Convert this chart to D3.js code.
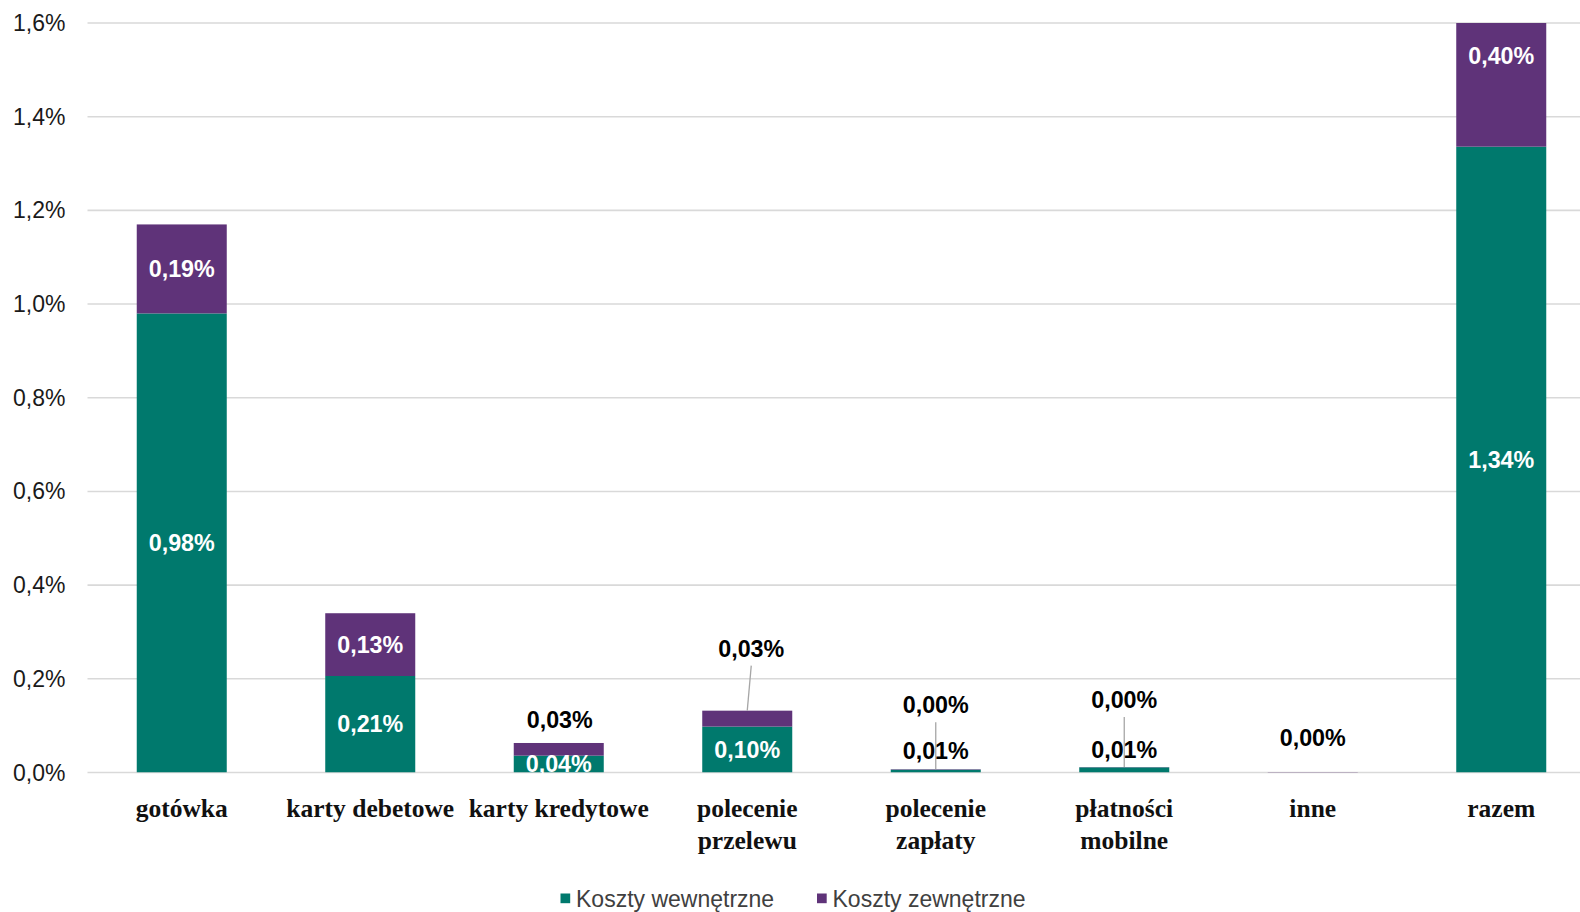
<!DOCTYPE html>
<html><head><meta charset="utf-8">
<script src="https://cdn.jsdelivr.net/npm/d3@7"></script>
<style>html,body{margin:0;padding:0;background:#fff;}svg{display:block;}</style>
</head><body>
<svg id="c" width="1580" height="912"></svg>
<script>
const categories = ["gotówka","karty debetowe","karty kredytowe","polecenie przelewu","polecenie zapłaty","płatności mobilne","inne","razem"];
const internalCosts = [0.98, 0.206, 0.036, 0.098, 0.006, 0.011, 0.0, 1.336];
const externalCosts = [0.19, 0.134, 0.027, 0.034, 0.001, 0.0005, 0.001, 0.40];
const seriesNames = ["Koszty wewnętrzne","Koszty zewnętrzne"];
const yTicks = [0, 0.2, 0.4, 0.6, 0.8, 1.0, 1.2, 1.4, 1.6];

(function () {
const colors = ["#00796d", "#5f3379"];
const svg = d3.select("#c");
const left = 87.5, plotTop = 23, bottom = 772.5, rightEdge = 1580;
const x = d3.scaleBand().domain(categories).range([left, left + 8*188.5]).paddingInner(0.5225).paddingOuter(0.26125);
const y = d3.scaleLinear().domain([0, 1.6]).range([bottom, plotTop]);
const fmt = v => d3.format(".2f")(v).replace(".", ",") + "%";
const fmtAxis = v => d3.format(".1f")(v).replace(".", ",") + "%";

// gridlines
svg.append("g").selectAll("line").data(yTicks).join("line")
  .attr("x1", left).attr("x2", rightEdge)
  .attr("y1", d => y(d)).attr("y2", d => y(d))
  .attr("stroke", "#d9d9d9").attr("stroke-width", 1.6);

// y axis labels
svg.append("g").selectAll("text").data(yTicks).join("text")
  .attr("x", 65.5).attr("y", d => y(d)).attr("text-anchor", "end")
  .attr("dominant-baseline", "central")
  .attr("font-family", "Liberation Sans, Arial, sans-serif").attr("font-size", 23)
  .attr("fill", "#1a1a1a").text(fmtAxis);

// clip
svg.append("clipPath").attr("id", "plot").append("rect")
  .attr("x", 0).attr("y", plotTop).attr("width", 1580).attr("height", bottom - plotTop);

const stackData = categories.map((c, i) => ({c, a: internalCosts[i], b: externalCosts[i]}));
const bars = svg.append("g").attr("clip-path", "url(#plot)");
bars.selectAll("rect.int").data(stackData).join("rect").attr("class", "int")
  .attr("x", d => x(d.c)).attr("width", x.bandwidth())
  .attr("y", d => y(d.a)).attr("height", d => y(0) - y(d.a))
  .attr("fill", colors[0]);
bars.selectAll("rect.ext").data(stackData).join("rect").attr("class", "ext")
  .attr("x", d => x(d.c)).attr("width", x.bandwidth())
  .attr("y", d => y(d.a + d.b)).attr("height", d => y(d.a) - y(d.a + d.b))
  .attr("fill", colors[1]);

// data labels
const lblFont = "Liberation Sans, Arial, sans-serif";
const lines = svg.append("g");
const lg = svg.append("g").attr("font-family", lblFont).attr("font-weight", "bold")
  .attr("font-size", 23.3).attr("text-anchor", "middle").attr("dominant-baseline", "central");
// callout layout for small segments: [dx, label centre above bar top (px), leader line?]
const extCallout = {2: [1, 23, false], 3: [4, 62, true], 4: [0, 64, true], 5: [0, 67, true], 6: [0, 34, false]};
const intCallout = {4: [0, 22], 5: [0, 23]};
stackData.forEach((d, i) => {
  const cx = x(d.c) + x.bandwidth() / 2;
  if (i !== 6) {
    if (intCallout[i]) {
      lg.append("text").attr("x", cx).attr("y", y(0) - intCallout[i][1]).attr("fill", "#000").text(fmt(d.a));
    } else {
      lg.append("text").attr("x", cx).attr("y", y(d.a / 2)).attr("fill", "#fff").text(fmt(d.a));
    }
  }
  const topY = y(d.a + d.b);
  if (extCallout[i]) {
    const [dx, up, leader] = extCallout[i];
    const ly = topY - up;
    if (leader) {
      lines.append("line").attr("x1", cx + dx).attr("y1", ly + 17).attr("x2", cx).attr("y2", topY)
        .attr("stroke", "#a6a6a6").attr("stroke-width", 1.3);
    }
    lg.append("text").attr("x", cx + dx).attr("y", ly).attr("fill", "#000").text(fmt(d.b));
  } else {
    lg.append("text").attr("x", cx).attr("y", y(d.a + d.b / 2) + (i === 7 ? 3 : 0)).attr("fill", "#fff").text(fmt(d.b));
  }
});

// x category labels
const xl = svg.append("g").attr("font-family", "Liberation Serif, Times New Roman, serif")
  .attr("font-weight", "bold").attr("font-size", 25.5).attr("text-anchor", "middle").attr("fill", "#111");
const wrap = {"polecenie przelewu": ["polecenie","przelewu"], "polecenie zapłaty": ["polecenie","zapłaty"], "płatności mobilne": ["płatności","mobilne"]};
categories.forEach(c => {
  const ls = wrap[c] || [c];
  ls.forEach((t, k) => {
    xl.append("text").attr("x", x(c) + x.bandwidth()/2).attr("y", bottom + 36 + k*31.5)
      .attr("dominant-baseline", "central").text(t);
  });
});

// legend
const legX = [560.5, 817];
const leg = svg.append("g");
seriesNames.forEach((n, k) => {
  leg.append("rect").attr("x", legX[k]).attr("y", 893.5).attr("width", 9.7).attr("height", 9.7).attr("fill", colors[k]);
  leg.append("text").attr("x", legX[k] + 15.5).attr("y", 898.5).attr("dominant-baseline", "central")
    .attr("font-family", "Liberation Sans, Arial, sans-serif").attr("font-size", 23).attr("fill", "#404040").text(n);
});
})();
</script>
</body></html>
